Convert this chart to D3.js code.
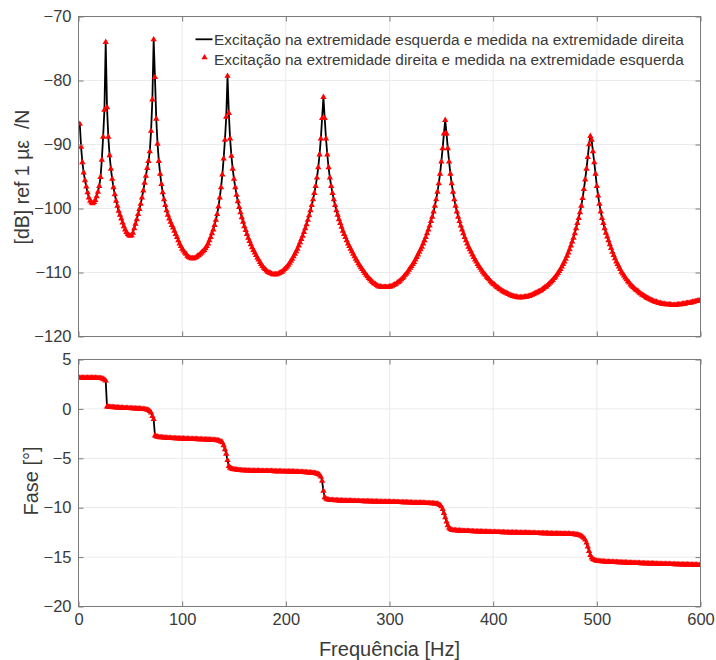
<!DOCTYPE html>
<html><head><meta charset="utf-8">
<script src="https://cdn.jsdelivr.net/npm/d3@7"></script>
<style>
body{margin:0;background:#fff}
svg{display:block}
text{font-family:"Liberation Sans",Arial,Helvetica,sans-serif}
</style>
</head><body>
<svg id="chart" width="716" height="660"></svg>
<script>
// ---- data (frequency grid step 1.25 Hz, 1.25 .. 600 Hz) ----
const freqStep = 1.25;
const freq = d3.range(1, 481).map(i => i * freqStep);

// magnitude [dB] ref 1 µε /N
const magnitude = [
-86.8,-90.4,-92.8,-94.4,-95.6,-96.6,-97.5,-98.3,
-98.8,-99.1,-99.2,-99.0,-98.7,-98.1,-97.4,-96.5,
-95.1,-92.4,-88.8,-84.6,-74.0,-84.2,-88.8,-91.7,
-93.8,-95.4,-96.7,-97.8,-98.8,-99.6,-100.4,-101.0,
-101.6,-102.2,-102.8,-103.3,-103.7,-104.0,-104.2,-104.3,
-104.2,-103.8,-103.1,-102.4,-101.7,-100.9,-100.1,-99.3,
-98.3,-97.2,-96.0,-94.9,-93.7,-92.6,-91.1,-87.9,
-83.0,-73.6,-79.5,-86.0,-89.9,-92.6,-94.6,-96.2,
-97.5,-98.6,-99.5,-100.3,-101.0,-101.6,-102.1,-102.6,
-103.0,-103.5,-104.0,-104.5,-105.0,-105.5,-105.9,-106.3,
-106.6,-106.9,-107.1,-107.4,-107.6,-107.7,-107.8,-107.8,
-107.8,-107.7,-107.6,-107.4,-107.3,-107.1,-106.9,-106.7,
-106.5,-106.2,-105.9,-105.5,-105.0,-104.5,-103.9,-103.3,
-102.6,-101.8,-100.9,-99.7,-98.3,-96.7,-94.7,-92.2,
-89.3,-85.7,-79.3,-85.1,-89.1,-91.8,-93.8,-95.4,
-96.7,-97.9,-98.9,-99.8,-100.6,-101.4,-102.1,-102.8,
-103.4,-104.0,-104.6,-105.1,-105.6,-106.1,-106.5,-106.9,
-107.3,-107.7,-108.0,-108.4,-108.7,-109.0,-109.3,-109.5,
-109.7,-109.9,-110.0,-110.1,-110.2,-110.3,-110.3,-110.3,
-110.3,-110.2,-110.1,-110.0,-109.9,-109.7,-109.5,-109.3,
-109.1,-108.8,-108.5,-108.2,-107.9,-107.5,-107.1,-106.7,
-106.3,-105.8,-105.3,-104.8,-104.3,-103.7,-103.1,-102.5,
-101.8,-101.1,-100.3,-99.5,-98.6,-97.6,-96.5,-95.2,
-93.6,-91.6,-89.1,-85.9,-82.6,-85.9,-89.1,-91.6,
-93.6,-95.2,-96.5,-97.6,-98.6,-99.5,-100.3,-101.0,
-101.7,-102.3,-102.9,-103.5,-104.0,-104.5,-105.0,-105.5,
-105.9,-106.3,-106.7,-107.1,-107.5,-107.9,-108.2,-108.6,
-108.9,-109.2,-109.5,-109.8,-110.1,-110.4,-110.6,-110.9,
-111.1,-111.3,-111.5,-111.7,-111.8,-112.0,-112.1,-112.2,
-112.2,-112.3,-112.3,-112.3,-112.3,-112.3,-112.3,-112.2,
-112.2,-112.1,-112.0,-111.9,-111.8,-111.6,-111.5,-111.3,
-111.1,-110.9,-110.7,-110.4,-110.2,-109.9,-109.6,-109.3,
-109.0,-108.7,-108.4,-108.0,-107.6,-107.2,-106.8,-106.4,
-106.0,-105.5,-105.0,-104.5,-103.9,-103.3,-102.7,-102.0,
-101.3,-100.5,-99.6,-98.6,-97.4,-96.1,-94.6,-92.7,
-90.6,-88.3,-86.2,-88.3,-90.6,-92.7,-94.6,-96.1,
-97.4,-98.6,-99.6,-100.5,-101.3,-102.0,-102.7,-103.3,
-103.9,-104.5,-105.0,-105.5,-106.0,-106.4,-106.8,-107.2,
-107.6,-108.0,-108.3,-108.7,-109.0,-109.3,-109.6,-109.9,
-110.2,-110.4,-110.7,-110.9,-111.1,-111.4,-111.6,-111.8,
-111.9,-112.1,-112.3,-112.4,-112.6,-112.7,-112.9,-113.0,
-113.1,-113.2,-113.3,-113.4,-113.5,-113.6,-113.7,-113.7,
-113.8,-113.8,-113.9,-113.9,-113.9,-113.9,-113.9,-113.8,
-113.8,-113.8,-113.7,-113.7,-113.6,-113.5,-113.4,-113.3,
-113.2,-113.1,-113.0,-112.9,-112.8,-112.6,-112.5,-112.3,
-112.2,-112.0,-111.8,-111.6,-111.4,-111.2,-110.9,-110.7,
-110.4,-110.1,-109.8,-109.5,-109.1,-108.7,-108.3,-107.9,
-107.4,-106.9,-106.4,-105.8,-105.2,-104.6,-103.9,-103.1,
-102.3,-101.5,-100.6,-99.6,-98.4,-97.0,-95.5,-93.8,
-92.0,-90.0,-88.7,-89.3,-91.1,-92.8,-94.6,-96.5,
-98.0,-99.3,-100.5,-101.5,-102.3,-103.1,-103.8,-104.4,
-105.0,-105.6,-106.2,-106.8,-107.3,-107.8,-108.3,-108.7,
-109.1,-109.5,-109.9,-110.2,-110.5,-110.8,-111.1,-111.4,
-111.6,-111.9,-112.1,-112.3,-112.5,-112.7,-112.8,-113.0,
-113.2,-113.3,-113.5,-113.6,-113.7,-113.9,-114.0,-114.1,
-114.2,-114.3,-114.4,-114.5,-114.6,-114.6,-114.7,-114.8,
-114.8,-114.9,-114.9,-114.9,-115.0,-115.0,-115.0,-115.0,
-115.0,-115.1,-115.1,-115.1,-115.1,-115.0,-115.0,-115.0,
-115.0,-114.9,-114.9,-114.9,-114.8,-114.8,-114.8,-114.7,
-114.7,-114.6,-114.6,-114.5,-114.5,-114.4,-114.4,-114.3
];

// phase
const phase = [
3.15,3.15,3.15,3.14,3.14,3.14,3.14,3.14,
3.14,3.14,3.13,3.13,3.13,3.12,3.12,3.11,
3.10,3.08,3.04,2.95,2.85,0.22,0.20,0.19,
0.18,0.17,0.16,0.15,0.14,0.13,0.12,0.11,
0.10,0.10,0.09,0.08,0.08,0.07,0.06,0.06,
0.05,0.05,0.04,0.03,0.03,0.02,0.01,0.00,
-0.01,-0.02,-0.04,-0.06,-0.09,-0.14,-0.22,-0.38,
-0.75,-1.05,-2.70,-2.80,-2.84,-2.86,-2.88,-2.89,
-2.90,-2.91,-2.92,-2.93,-2.94,-2.95,-2.96,-2.97,
-2.97,-2.98,-2.99,-2.99,-3.00,-3.01,-3.01,-3.02,
-3.02,-3.03,-3.03,-3.04,-3.04,-3.05,-3.05,-3.06,
-3.06,-3.07,-3.07,-3.08,-3.08,-3.09,-3.09,-3.10,
-3.10,-3.11,-3.11,-3.12,-3.13,-3.13,-3.14,-3.15,
-3.16,-3.17,-3.19,-3.21,-3.25,-3.31,-3.40,-3.70,
-4.10,-4.55,-5.20,-5.80,-5.98,-6.05,-6.09,-6.12,
-6.14,-6.16,-6.18,-6.20,-6.21,-6.22,-6.23,-6.24,
-6.24,-6.25,-6.25,-6.26,-6.26,-6.26,-6.27,-6.27,
-6.27,-6.28,-6.28,-6.28,-6.29,-6.29,-6.29,-6.30,
-6.30,-6.30,-6.30,-6.31,-6.31,-6.31,-6.32,-6.32,
-6.32,-6.32,-6.33,-6.33,-6.33,-6.34,-6.34,-6.34,
-6.35,-6.35,-6.35,-6.36,-6.36,-6.36,-6.37,-6.37,
-6.38,-6.38,-6.39,-6.39,-6.40,-6.41,-6.42,-6.43,
-6.44,-6.45,-6.46,-6.47,-6.48,-6.50,-6.52,-6.55,
-6.60,-6.68,-6.85,-7.30,-8.30,-8.95,-9.10,-9.17,
-9.20,-9.22,-9.23,-9.24,-9.25,-9.26,-9.27,-9.27,
-9.28,-9.28,-9.29,-9.29,-9.30,-9.30,-9.31,-9.31,
-9.32,-9.32,-9.32,-9.33,-9.33,-9.34,-9.34,-9.34,
-9.35,-9.35,-9.35,-9.36,-9.36,-9.36,-9.37,-9.37,
-9.37,-9.38,-9.38,-9.38,-9.39,-9.39,-9.39,-9.40,
-9.40,-9.40,-9.41,-9.41,-9.41,-9.42,-9.42,-9.42,
-9.43,-9.43,-9.43,-9.44,-9.44,-9.44,-9.45,-9.45,
-9.45,-9.46,-9.46,-9.47,-9.47,-9.48,-9.48,-9.49,
-9.49,-9.50,-9.51,-9.51,-9.52,-9.52,-9.52,-9.52,
-9.52,-9.52,-9.53,-9.53,-9.54,-9.55,-9.55,-9.56,
-9.57,-9.58,-9.59,-9.60,-9.62,-9.66,-9.74,-9.88,
-10.15,-10.55,-10.98,-11.42,-11.80,-12.05,-12.18,-12.24,
-12.27,-12.29,-12.30,-12.31,-12.32,-12.33,-12.34,-12.35,
-12.36,-12.36,-12.37,-12.38,-12.38,-12.39,-12.39,-12.40,
-12.40,-12.41,-12.41,-12.42,-12.42,-12.43,-12.43,-12.44,
-12.44,-12.45,-12.45,-12.45,-12.46,-12.46,-12.47,-12.47,
-12.47,-12.48,-12.48,-12.49,-12.49,-12.49,-12.50,-12.50,
-12.50,-12.51,-12.51,-12.51,-12.52,-12.52,-12.52,-12.53,
-12.53,-12.53,-12.54,-12.54,-12.54,-12.55,-12.55,-12.55,
-12.56,-12.56,-12.56,-12.57,-12.57,-12.57,-12.58,-12.58,
-12.58,-12.59,-12.59,-12.59,-12.60,-12.60,-12.60,-12.61,
-12.61,-12.61,-12.62,-12.62,-12.63,-12.63,-12.64,-12.64,
-12.63,-12.63,-12.64,-12.64,-12.64,-12.65,-12.65,-12.65,
-12.65,-12.66,-12.66,-12.67,-12.68,-12.69,-12.70,-12.72,
-12.74,-12.77,-12.81,-12.87,-12.95,-13.07,-13.25,-13.55,
-13.95,-14.40,-14.80,-15.07,-15.22,-15.30,-15.35,-15.38,
-15.40,-15.42,-15.43,-15.44,-15.45,-15.46,-15.47,-15.48,
-15.48,-15.49,-15.50,-15.50,-15.51,-15.52,-15.52,-15.53,
-15.54,-15.54,-15.55,-15.55,-15.56,-15.57,-15.57,-15.58,
-15.58,-15.59,-15.59,-15.60,-15.60,-15.61,-15.61,-15.62,
-15.62,-15.63,-15.63,-15.64,-15.64,-15.65,-15.65,-15.66,
-15.66,-15.67,-15.67,-15.67,-15.68,-15.68,-15.69,-15.69,
-15.70,-15.70,-15.70,-15.71,-15.71,-15.72,-15.72,-15.72,
-15.73,-15.73,-15.73,-15.74,-15.74,-15.74,-15.75,-15.75,
-15.75,-15.76,-15.76,-15.76,-15.77,-15.77,-15.77,-15.78,
-15.78,-15.78,-15.79,-15.79,-15.79,-15.80,-15.80,-15.80
];

const freqTicks = [0, 100, 200, 300, 400, 500, 600];
const magTicks = [-120, -110, -100, -90, -80, -70];
const phaseTicks = [-20, -15, -10, -5, 0, 5];
const legendLabels = [
  "Excitação na extremidade esquerda e medida na extremidade direita",
  "Excitação na extremidade direita e medida na extremidade esquerda"
];
const magLabel = "[dB] ref 1 µε  /N";
const phaseLabel = "Fase [°]";
const freqLabel = "Frequência [Hz]";

// ---- drawing ----
const svg = d3.select("#chart");
const X0 = 78.5, X1 = 700.5;
const x = d3.scaleLinear().domain([0, 600]).range([X0, X1]);
const yMag = d3.scaleLinear().domain([-120, -70]).range([336.5, 16.5]);
const yPh = d3.scaleLinear().domain([-20, 5]).range([606.5, 359.5]);

const AX = "#7a7a7a", TXT = "#3a3a3a", GRID = "#ebebeb";
const tri = d3.symbol(d3.symbolTriangle, 17)();

function panel(id, yScale, yTicks, values, showX) {
  const [yb, yt] = yScale.range();
  const g = svg.append("g");
  g.append("g").selectAll("line").data(freqTicks.slice(1, -1)).join("line")
    .attr("x1", d => x(d)).attr("x2", d => x(d)).attr("y1", yt).attr("y2", yb)
    .attr("stroke", GRID).attr("stroke-width", 1);
  g.append("g").selectAll("line").data(yTicks.slice(1, -1)).join("line")
    .attr("x1", X0).attr("x2", X1).attr("y1", d => yScale(d)).attr("y2", d => yScale(d))
    .attr("stroke", GRID).attr("stroke-width", 1);

  svg.append("clipPath").attr("id", id).append("rect")
    .attr("x", X0).attr("y", yt).attr("width", X1 - X0).attr("height", yb - yt);
  const data = g.append("g").attr("clip-path", `url(#${id})`);
  const line = d3.line().x((d, i) => x(freq[i])).y(d => yScale(d));
  data.append("path").datum(values).attr("d", line)
    .attr("fill", "none").attr("stroke", "#000").attr("stroke-width", 1.8)
    .attr("stroke-linejoin", "round");
  data.append("g").selectAll("path").data(values).join("path")
    .attr("d", tri)
    .attr("transform", (d, i) => `translate(${x(freq[i])},${yScale(d)})`)
    .attr("fill", "#ff0000");

  const styleAxis = sel => {
    sel.select(".domain").remove();
    sel.selectAll(".tick line").attr("stroke", AX);
    sel.selectAll(".tick text").attr("fill", TXT).attr("font-size", 16.5)
      .attr("font-family", '"Liberation Sans", Arial, sans-serif');
  };
  g.append("g").attr("transform", `translate(${X0},0)`)
    .call(d3.axisLeft(yScale).tickValues(yTicks).tickSizeInner(-5).tickSizeOuter(0).tickPadding(7))
    .call(styleAxis);
  g.append("g").attr("transform", `translate(${X1},0)`)
    .call(d3.axisRight(yScale).tickValues(yTicks).tickSizeInner(-5).tickSizeOuter(0).tickFormat(""))
    .call(styleAxis);
  g.append("g").attr("transform", `translate(0,${yb})`)
    .call(d3.axisBottom(x).tickValues(freqTicks).tickSizeInner(-5).tickSizeOuter(0).tickPadding(7)
      .tickFormat(showX ? d3.format("d") : ""))
    .call(styleAxis);
  g.append("g").attr("transform", `translate(0,${yt})`)
    .call(d3.axisTop(x).tickValues(freqTicks).tickSizeInner(-5).tickSizeOuter(0).tickFormat(""))
    .call(styleAxis);
  g.append("rect").attr("x", X0).attr("y", yt).attr("width", X1 - X0).attr("height", yb - yt)
    .attr("fill", "none").attr("stroke", AX).attr("stroke-width", 1);
}

panel("clipMag", yMag, magTicks, magnitude, false);
panel("clipPh", yPh, phaseTicks, phase, true);

// axis labels
svg.append("text").attr("transform", "translate(29,177) rotate(-90)")
  .attr("text-anchor", "middle").attr("font-size", 19.5).attr("fill", TXT)
  .attr("xml:space", "preserve").style("white-space", "pre").text(magLabel);
svg.append("text").attr("transform", "translate(38,481) rotate(-90)")
  .attr("text-anchor", "middle").attr("font-size", 20).attr("fill", TXT).text(phaseLabel);
svg.append("text").attr("x", (X0 + X1) / 2).attr("y", 656)
  .attr("text-anchor", "middle").attr("font-size", 20).attr("fill", TXT).text(freqLabel);

// legend
const lg = svg.append("g");
lg.append("line").attr("x1", 195.5).attr("x2", 212.5).attr("y1", 39.3).attr("y2", 39.3)
  .attr("stroke", "#000").attr("stroke-width", 1.8);
lg.append("path").attr("d", tri).attr("transform", "translate(204.5,57.5)").attr("fill", "#ff0000");
lg.selectAll("text").data(legendLabels).join("text")
  .attr("x", 214).attr("y", (d, i) => 44.6 + i * 20)
  .attr("font-size", 15.4).attr("fill", TXT).text(d => d);
</script>
</body></html>
